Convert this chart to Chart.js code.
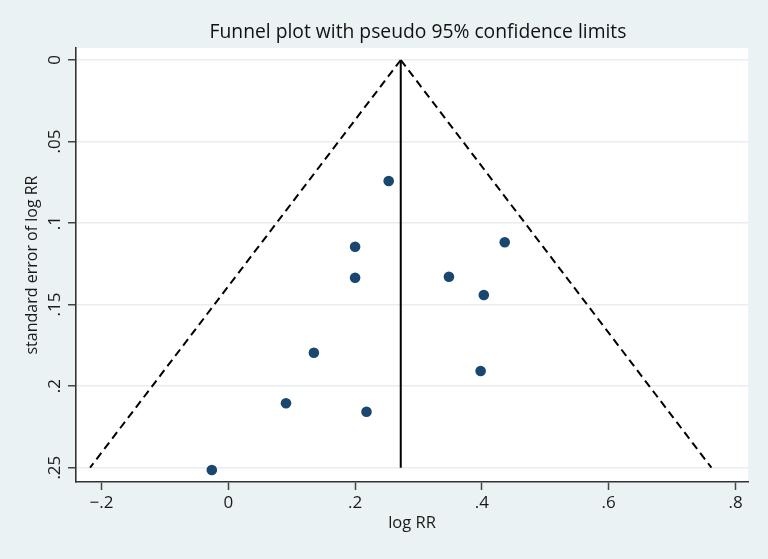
<!DOCTYPE html>
<html>
<head>
<meta charset="utf-8">
<script src="https://cdn.jsdelivr.net/npm/chart.js@4.4.1/dist/chart.umd.min.js"></script>
<style>
  html, body { margin: 0; padding: 0; background: #eaf2f3; }
  #wrap { width: 768px; height: 559px; }
</style>
</head>
<body>
<div id="wrap"><canvas id="c" width="768" height="559"></canvas></div>
<script>
// ---- data ----
const chartTitle = 'Funnel plot with pseudo 95% confidence limits';
const xTitle = 'log RR';
const yTitle = 'standard error of log RR';

const logRR   = [0.253, 0.200, 0.200, 0.436, 0.348, 0.403, 0.135, 0.091, 0.218, -0.026, 0.398];
const seLogRR = [0.0742, 0.1145, 0.1335, 0.1118, 0.1329, 0.1441, 0.1795, 0.2105, 0.2157, 0.2514, 0.1907];

// pooled estimate line and pseudo 95% limits (at se = 0 and se = .25)
const funnelSE    = [0, 0.25];
const pooledLine  = [0.272, 0.272];
const lowerLimit  = [0.272, -0.218];
const upperLimit  = [0.272, 0.762];

const xTicks = [-0.2, 0, 0.2, 0.4, 0.6, 0.8];
const xTickLabels = ['\u2212.2', '0', '.2', '.4', '.6', '.8'];
const yTicks = [0, 0.05, 0.1, 0.15, 0.2, 0.25];
const yTickLabels = ['0', '.05', '.1', '.15', '.2', '.25'];

// ---- chart ----
const BG = '#eaf2f3';
const NAVY = '#1a476f';
const FONT = '"Open Sans", "DejaVu Sans", sans-serif';

function pairs(xs, ys) { return xs.map((x, i) => ({ x: x, y: ys[i] })); }

const bgPlugin = {
  id: 'bgPlugin',
  beforeDraw(chart) {
    const { ctx, chartArea: a } = chart;
    ctx.save();
    ctx.fillStyle = BG;
    ctx.fillRect(0, 0, chart.width, chart.height);
    ctx.fillStyle = '#ffffff';
    ctx.fillRect(a.left, a.top, a.right - a.left, a.bottom - a.top);
    ctx.restore();
  },
  afterDraw(chart) {
    const ctx = chart.ctx;
    ctx.save();
    ctx.font = '19.3px ' + FONT;
    ctx.fillStyle = '#111111';
    ctx.textAlign = 'center';
    ctx.textBaseline = 'alphabetic';
    ctx.fillText(chartTitle, 418, 38);
    ctx.restore();
  }
};

function build() {
  const lineDs = (xs, dash) => ({
    type: 'scatter',
    data: pairs(xs, funnelSE),
    showLine: true,
    borderColor: '#000000',
    borderWidth: 2,
    borderDash: dash,
    pointRadius: 0,
    pointHoverRadius: 0,
    fill: false
  });

  new Chart(document.getElementById('c'), {
    type: 'scatter',
    data: {
      datasets: [
        lineDs(lowerLimit, [8, 5]),
        lineDs(upperLimit, [8, 5]),
        lineDs(pooledLine, []),
        {
          data: pairs(logRR, seLogRR),
          backgroundColor: NAVY,
          borderColor: NAVY,
          borderWidth: 0,
          pointRadius: 5.3,
          pointHoverRadius: 5.3
        }
      ]
    },
    options: {
      responsive: false,
      animation: false,
      devicePixelRatio: 1,
      layout: { padding: { top: 48, right: 20, left: 0, bottom: 0 } },
      plugins: {
        legend: { display: false },
        title: { display: false },
        tooltip: { enabled: false }
      },
      scales: {
        x: {
          type: 'linear',
          min: -0.2402,
          max: 0.8197,
          afterBuildTicks(s) { s.ticks = xTicks.map(v => ({ value: v })); },
          afterFit(s) { s.height = 77; },
          border: { display: true, color: '#333333', width: 1.6 },
          grid: {
            display: true, drawOnChartArea: false, drawTicks: true,
            tickLength: 8, tickColor: '#444444', tickWidth: 1.5
          },
          ticks: {
            padding: 3,
            color: '#1a1a1a',
            font: { family: FONT, size: 17 },
            maxRotation: 0,
            autoSkip: false,
            callback(v) { const i = xTicks.indexOf(v); return i >= 0 ? xTickLabels[i] : ''; }
          },
          title: {
            display: true, text: xTitle, color: '#1a1a1a',
            font: { family: FONT, size: 16.5 },
            padding: { top: 0, bottom: 26 }
          }
        },
        y: {
          type: 'linear',
          reverse: true,
          min: -0.00736,
          max: 0.2588,
          afterBuildTicks(s) { s.ticks = yTicks.map(v => ({ value: v })); },
          afterFit(s) { s.width = 76; },
          border: { display: true, color: '#333333', width: 1.6 },
          grid: {
            display: true, drawOnChartArea: true, drawTicks: true,
            color: '#e6eef0', lineWidth: 1.5,
            tickLength: 8, tickColor: '#444444', tickWidth: 1.5
          },
          ticks: {
            padding: 1,
            color: '#1a1a1a',
            font: { family: FONT, size: 17 },
            minRotation: 90,
            maxRotation: 90,
            crossAlign: 'center',
            autoSkip: false,
            callback(v) { const i = yTicks.indexOf(v); return i >= 0 ? yTickLabels[i] : ''; }
          },
          title: {
            display: true, text: yTitle, color: '#1a1a1a',
            font: { family: FONT, size: 16 },
            padding: { top: 23, bottom: 0 }
          }
        }
      }
    },
    plugins: [bgPlugin]
  });
}

if (document.fonts && document.fonts.load) {
  Promise.all([
    document.fonts.load('19.3px "Open Sans"'),
    document.fonts.load('17px "Open Sans"')
  ]).then(build, build);
} else {
  build();
}
</script>
</body>
</html>
